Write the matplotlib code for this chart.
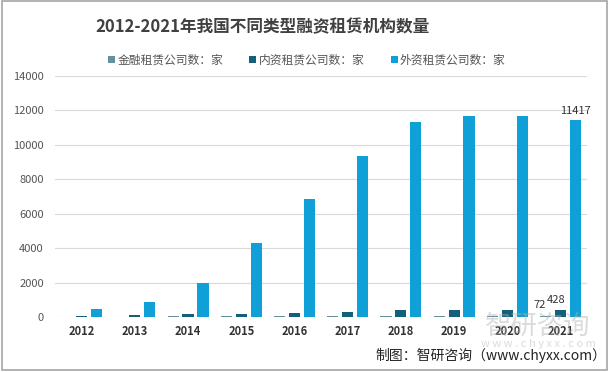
import numpy as np
import matplotlib.pyplot as plt
from matplotlib.patches import Rectangle

plt.rcParams['font.family'] = ['Noto Sans CJK SC', 'DejaVu Sans']

years = ["2012", "2013", "2014", "2015", "2016", "2017", "2018", "2019", "2020", "2021"]
financial = [20, 23, 30, 47, 60, 69, 69, 70, 71, 72]          # 金融租赁公司数
domestic = [80, 123, 152, 190, 204, 276, 397, 403, 414, 428]   # 内资租赁公司数
foreign = [460, 880, 1986, 4271, 6872, 9340, 11311, 11656, 11662, 11417]  # 外资租赁公司数
series_names = ["金融租赁公司数：家", "内资租赁公司数：家", "外资租赁公司数：家"]
colors = ["#66909c", "#14607a", "#0ea0d6"]

fig = plt.figure(figsize=(6.11, 3.72), dpi=100)
ax = fig.add_axes([0.09, 0.148, 0.871, 0.648])

x = np.arange(len(years))
w = 0.21
off = 0.28
bars = []
for i, (vals, name, c) in enumerate(zip([financial, domestic, foreign], series_names, colors)):
    b = ax.bar(x + (i - 1) * off, vals, width=w, color=c, label=name, zorder=2)
    bars.append(b)

ax.set_xlim(-0.5, len(years) - 0.5)
ax.set_ylim(0, 14000)
ax.set_yticks(np.arange(0, 14001, 2000))
ax.set_xticks(x)
ax.set_xticklabels(years, fontweight='bold', fontsize=8, color='#333333')
ax.tick_params(axis='y', labelsize=8, colors='#555555', length=0, pad=8)
ax.tick_params(axis='x', length=0, pad=6)
ax.grid(axis='y', color='#d9d9d9', linewidth=0.8, zorder=0)
for s in ax.spines.values():
    s.set_visible(False)

# data labels for last year
last = len(years) - 1
ax.annotate(str(foreign[last]), (x[last] + off, foreign[last]), xytext=(0, 3),
            textcoords='offset points', ha='center', va='bottom', fontsize=8, color='#333333')
ax.annotate(str(domestic[last]), (x[last], domestic[last]), xytext=(-3, 3),
            textcoords='offset points', ha='center', va='bottom', fontsize=8, color='#333333')
ax.annotate(str(financial[last]), (x[last] - off, financial[last]), xytext=(-4, 4),
            textcoords='offset points', ha='center', va='bottom', fontsize=8, color='#333333')

fig.text(262 / 611, 1 - 27 / 372, "2012-2021年我国不同类型融资租赁机构数量",
         ha='center', va='center', fontsize=12, fontweight='bold', color='#404040')

leg = fig.legend(handles=bars, labels=series_names, loc='center', bbox_to_anchor=(307 / 611, 1 - 60 / 372),
                 ncol=3, frameon=False, fontsize=8.5, handlelength=0.6, handleheight=0.6,
                 handletextpad=0.2, columnspacing=2.2)
for t in leg.get_texts():
    t.set_color('#555555')

# watermark
fig.text(538 / 611, 1 - 326 / 372, "智研咨询", ha='center', va='center', fontsize=19,
         color='#b0b0b0', alpha=0.45, zorder=5)
fig.text(538 / 611, 1 - 344 / 372, "w w w . c h y x x . c o m", ha='center', va='center', fontsize=8,
         color='#b0b0b0', alpha=0.45, zorder=5)

fig.text(606 / 611, 1 - 355 / 372, "制图：智研咨询（www.chyxx.com）", ha='right', va='center',
         fontsize=10, color='#222222')

fig.patches.append(Rectangle((0.004, 0.006), 0.99, 0.99, transform=fig.transFigure,
                             fill=False, edgecolor='#a6a6a6', linewidth=1.2))

fig.savefig("out.png", dpi=100)
